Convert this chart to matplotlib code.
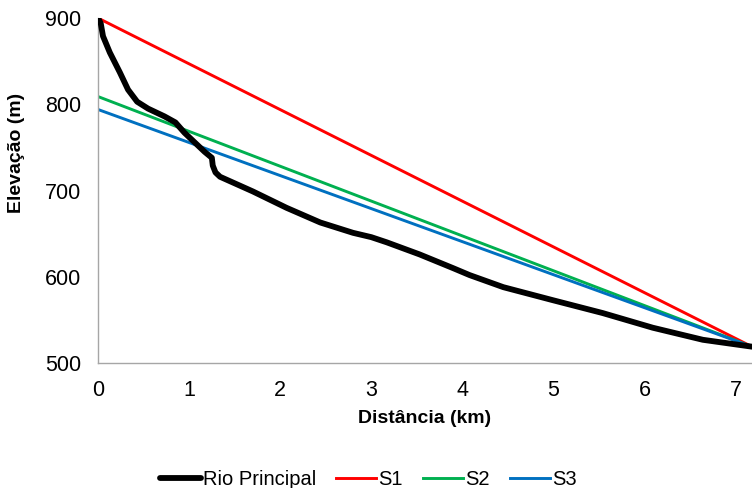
import numpy as np
import pandas as pd
import matplotlib
matplotlib.use('Agg')
import matplotlib.pyplot as plt

plt.rcParams['font.family'] = ['Liberation Sans', 'DejaVu Sans']

########## data
# main river profile (distance km, elevation m)
rio_dist = [0.00, 0.03, 0.055, 0.13, 0.24, 0.33, 0.43, 0.55, 0.73, 0.85, 0.95,
            1.06, 1.17, 1.25, 1.26, 1.29, 1.34, 1.70, 2.07, 2.44, 2.80, 3.00,
            3.17, 3.53, 3.90, 4.08, 4.45, 4.99, 5.54, 6.09, 6.64, 7.18]
rio_elev = [900, 894, 879, 860, 837, 817, 803, 795, 786, 779, 767,
            756, 745, 738, 729, 721, 716, 699, 680, 663, 651, 646,
            640, 626, 610, 602, 588, 573, 558, 541, 527, 519]

# straight slope lines S1, S2, S3 (start and end)
s_dist = [0.0, 7.18]
s1_elev = [900, 519]
s2_elev = [809, 519]
s3_elev = [794, 519]

x_ticks = [0, 1, 2, 3, 4, 5, 6, 7]
y_ticks = [500, 600, 700, 800, 900]

########## plot
fig = plt.figure(figsize=(7.52, 4.88), dpi=100)
ax = fig.add_axes([0.1303, 0.256, 0.8697, 0.707])

ax.plot(s_dist, s1_elev, color='#FF0000', lw=2.1, label='S1', zorder=2)
ax.plot(s_dist, s2_elev, color='#00B050', lw=2.1, label='S2', zorder=2)
ax.plot(s_dist, s3_elev, color='#0070C0', lw=2.1, label='S3', zorder=2)
ax.plot(rio_dist, rio_elev, color='black', lw=4.2, solid_capstyle='round',
        solid_joinstyle='round', label='Rio Principal', zorder=3)

ax.set_xlim(0, 7.18)
ax.set_ylim(500, 900)
ax.set_xticks(x_ticks)
ax.set_yticks(y_ticks)
ax.tick_params(length=0, labelsize=15.5, pad=12)

for s in ['top', 'right']:
    ax.spines[s].set_visible(False)
for s in ['left', 'bottom']:
    ax.spines[s].set_color('#A6A6A6')
    ax.spines[s].set_linewidth(1)

ax.set_xlabel('Distância (km)', fontsize=14, fontweight='bold', labelpad=7)
ax.set_ylabel('Elevação (m)', fontsize=14, fontweight='bold')
ax.yaxis.set_label_coords(-0.112, 0.61)

h, l = ax.get_legend_handles_labels()
order = [3, 0, 1, 2]
fig.legend([h[i] for i in order], [l[i] for i in order],
           loc='lower center', bbox_to_anchor=(0.49, -0.04), ncol=4, frameon=False,
           fontsize=14.5, handlelength=2.0, handletextpad=0.1, columnspacing=1.0)

plt.savefig('out.png', dpi=100)
